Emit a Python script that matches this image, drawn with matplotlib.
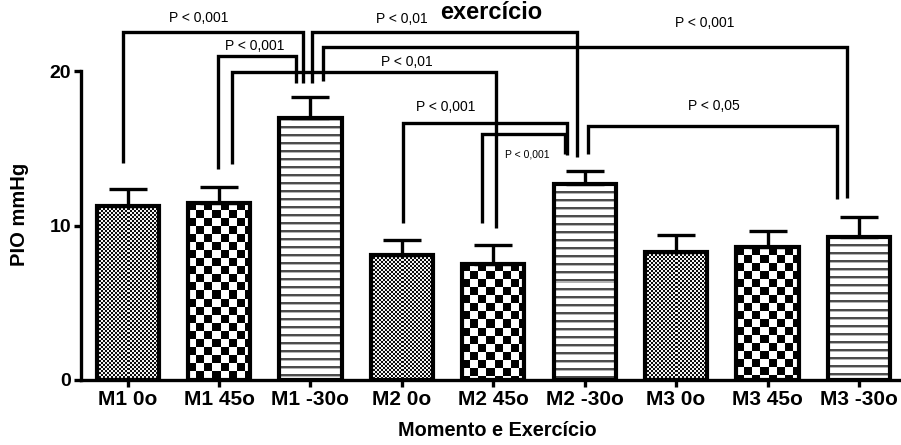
import numpy as np
import matplotlib
matplotlib.use("Agg")
import matplotlib.pyplot as plt

plt.rcParams['font.family'] = ['Liberation Sans', 'DejaVu Sans']

# data
categories = ['M1 0o', 'M1 45o', 'M1 -30o', 'M2 0o', 'M2 45o', 'M2 -30o',
              'M3 0o', 'M3 45o', 'M3 -30o']
means = [11.26, 11.46, 16.96, 8.09, 7.51, 12.69, 8.28, 8.61, 9.26]
sems = [1.10, 1.03, 1.36, 0.97, 1.23, 0.84, 1.11, 1.03, 1.29]
patterns = ['fine', 'coarse', 'stripe'] * 3

# significance brackets: left x, right x, top, left end, right end, label, label x, label y, size
brackets = [
    (-0.05, 1.92, 22.52, 14.05, 19.22, 'P < 0,001', 0.78, 23.43, 10),
    (0.99, 1.84, 20.97, 13.66, 19.22, 'P < 0,001', 1.39, 21.62, 10),
    (1.14, 4.03, 19.94, 13.98, 9.84, 'P < 0,01', 3.05, 20.58, 10),
    (2.02, 4.92, 22.52, 19.22, 14.43, 'P < 0,01', 3.00, 23.37, 10),
    (2.14, 7.87, 21.55, 19.35, 11.78, 'P < 0,001', 6.31, 23.11, 10),
    (3.01, 4.81, 16.63, 10.16, 14.56, 'P < 0,001', 3.48, 17.67, 10),
    (3.88, 4.78, 15.92, 10.16, 14.63, 'P < 0,001', 4.37, 14.63, 7.5),
    (5.04, 7.76, 16.44, 14.63, 11.72, 'P < 0,05', 6.41, 17.73, 10),
]

fig = plt.figure(figsize=(9.01, 4.45), dpi=100)
ax = fig.add_axes([81/901, 1-380/445, 1-81/901, 380/445])
ax.set_xlim(-0.51, 8.46)
ax.set_ylim(0, 24.6)

x = np.arange(len(categories))
width = 0.68
bars = ax.bar(x, means, width, facecolor='none', edgecolor='black', linewidth=3, zorder=3)
ax.errorbar(x, means, yerr=[np.zeros(len(sems)), sems], fmt='none', ecolor='black',
            elinewidth=2.4, capsize=14, capthick=2.4, zorder=2)

# textures inside the bars
fig.canvas.draw()
for b, pat in zip(bars, patterns):
    x0, y0 = b.get_x(), 0
    x1, y1 = b.get_x() + b.get_width(), b.get_height()
    (px0, py0), (px1, py1) = ax.transData.transform([(x0, y0), (x1, y1)])
    w_px, h_px = int(round(px1 - px0)), int(round(py1 - py0))
    r, c = np.mgrid[0:h_px, 0:w_px]
    if pat == 'fine':
        tex = ((r // 2 + c // 2) % 2) * 0.9 + 0.05
    elif pat == 'coarse':
        tex = ((r // 8 + c // 8) % 2).astype(float)
    else:
        ph = r % 8
        tex = np.where(ph < 2, 0.3, np.where(ph == 2, 0.7, 1.0))
    im = ax.imshow(tex, cmap='gray', vmin=0, vmax=1, extent=(x0, x1, y0, y1),
                   interpolation='nearest', aspect='auto', zorder=1)
    im.set_clip_path(b)

for lx, rx, top, le, re, lab, tx, ty, fs in brackets:
    ax.plot([lx, lx, rx, rx], [le, top, top, re], color='black', lw=2.4,
            solid_capstyle='butt', solid_joinstyle='miter', clip_on=False, zorder=4)
    ax.text(tx, ty, lab, ha='center', va='center', fontsize=fs, clip_on=False)

for s in ['top', 'right']:
    ax.spines[s].set_visible(False)
ax.spines['left'].set_bounds(0, 20)
ax.spines['left'].set_linewidth(2.4)
ax.spines['bottom'].set_linewidth(2.4)

ax.set_yticks([0, 10, 20])
ax.set_xticks(x)
ax.set_xticklabels(categories, fontsize=15, fontweight='bold')
for t in ax.get_yticklabels():
    t.set_fontsize(14)
    t.set_fontweight('bold')
ax.tick_params(axis='both', direction='out', length=5, width=2.4, pad=2)

fig.text(20/901, 1-214/445, 'PIO mmHg', rotation=90, ha='center', va='center',
         fontsize=14.5, fontweight='bold')
fig.text(497/901, 1-431/445, 'Momento e Exercício', ha='center', va='center',
         fontsize=14.3, fontweight='bold')
fig.text(491/901, 0.998, 'exercício', ha='center', va='top',
         fontsize=17, fontweight='bold')

fig.savefig('out.png', dpi=100)
